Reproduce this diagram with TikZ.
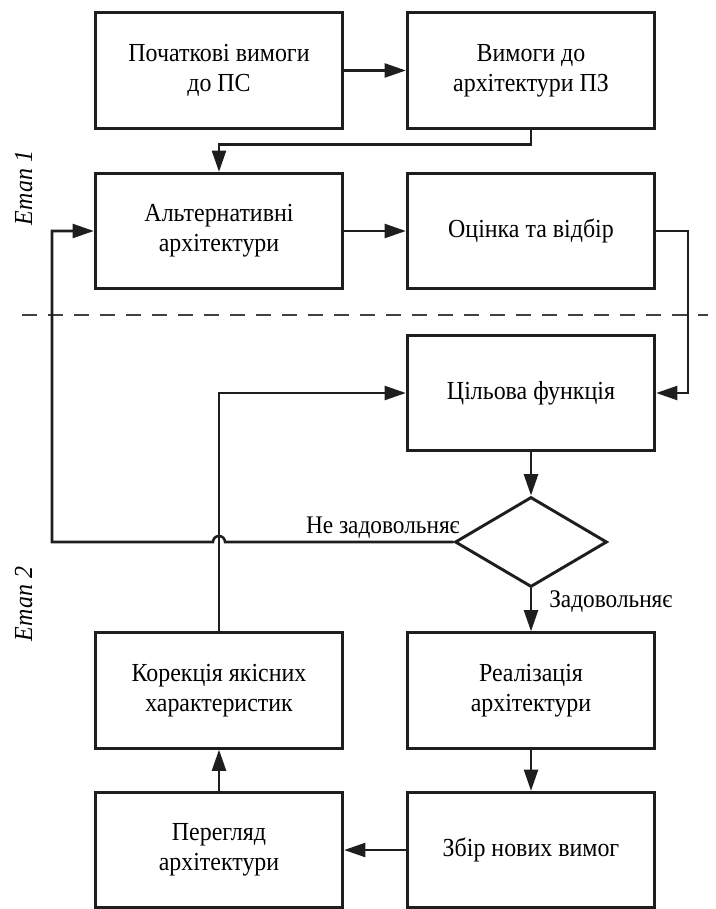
\documentclass[tikz,border=0pt]{standalone}
\usepackage{fontspec}
\setmainfont{Liberation Serif}[FakeStretch=0.92]
\usetikzlibrary{arrows.meta,shapes.geometric}
\definecolor{ink}{HTML}{1E1E1E}
\definecolor{dashgray}{HTML}{404040}
\begin{document}
\begin{tikzpicture}[x=0.75pt,y=-0.75pt,
  stepbox/.style={draw=ink,line width=2.2pt,rectangle,minimum width=185.5pt,
    minimum height=86.5pt,inner sep=2pt,align=center,
    font=\fontsize{19.5}{22.5}\selectfont},
  decision/.style={draw=ink,line width=2.2pt,diamond,minimum width=114pt,
    minimum height=67.5pt,inner sep=0pt},
  link/.style={draw=ink,line width=1.9pt,-{Triangle[length=16pt,width=10.5pt]}},
  lbl/.style={font=\fontsize{19}{21}\selectfont,inner sep=0pt},
  stage/.style={rotate=90,font=\fontsize{19.5}{22}\selectfont\itshape,inner sep=0pt}]
\useasboundingbox (0,0) rectangle (715,909);

% stage separator
\draw[dashgray,line width=2.2pt,dash pattern=on 11.5pt off 8pt] (22,315) -- (708,315);

% process blocks
\node[stepbox] (b1) at (219,70.5) {Початкові вимоги\\до ПС};
\node[stepbox] (b2) at (531,70.5) {Вимоги до\\архітектури ПЗ};
\node[stepbox] (b3) at (219,231) {Альтернативні\\архітектури};
\node[stepbox] (b4) at (531,231) {Оцінка та відбір};
\node[stepbox] (b5) at (531,393) {Цільова функція};
\node[decision] (d) at (531,542) {};
\node[stepbox] (b6) at (531,690.5) {Реалізація\\архітектури};
\node[stepbox] (b7) at (219,690.5) {Корекція якісних\\характеристик};
\node[stepbox] (b8) at (219,850) {Перегляд\\архітектури};
\node[stepbox] (b9) at (531,850) {Збір нових вимог};

% stage labels
\node[stage,anchor=base] (s1) at (32,188) {Етап 1};
\node[stage,anchor=base] (s2) at (32,604) {Етап 2};

% routing points
\coordinate (r1) at (688,231);
\coordinate (l1) at (52,542);
\coordinate (l2) at (52,231);
\coordinate (up) at (219,393);

% connectors
\draw[link] (b1.east) -- (b2.west);
\draw[link] (b2.south) -- ++(0,15) -| (b3.north);
\draw[link] (b3.east) -- (b4.west);
\draw[link] (b4.east) -- (r1) |- (b5.east);
\draw[link] (b5.south) -- (d.north);
\draw[link] (d.south) -- (b6.north);
\draw[link] (b6.south) -- (b9.north);
\draw[link] (b9.west) -- (b8.east);
\draw[link] (b8.north) -- (b7.south);
\draw[link] (b7.north) -- (up) -- (b5.west);
\draw[link] (d.west) -- (225,542) arc[start angle=0,end angle=-180,radius=6]
  -- (l1) -- (l2) -- (b3.west);

% branch labels
\node[lbl,anchor=base east] (no) at (460,533) {Не задовольняє};
\node[lbl,anchor=base west] (yes) at (549,607) {Задовольняє};
\end{tikzpicture}
\end{document}
